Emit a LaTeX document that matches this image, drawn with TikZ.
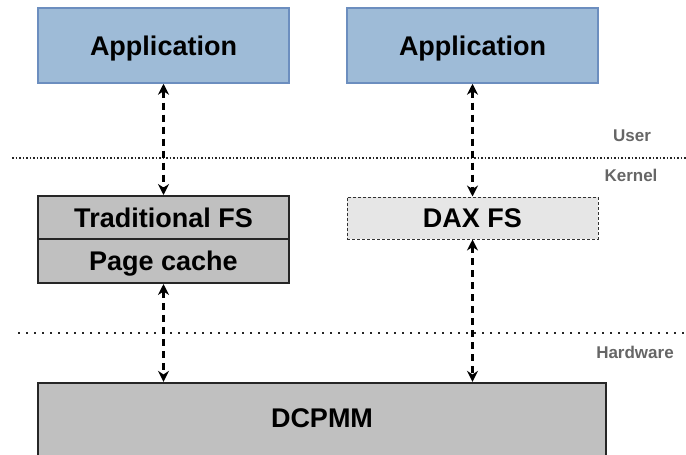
\documentclass[tikz,border=0pt]{standalone}
\usepackage{fontspec}
\setmainfont{Liberation Sans}
\usepackage{tikz}
\usetikzlibrary{arrows.meta}
\definecolor{appblue}{HTML}{9EBBD7}
\definecolor{appline}{HTML}{6C8EBF}
\definecolor{fsgray}{HTML}{C0C0C0}
\definecolor{daxgray}{HTML}{E6E6E6}
\definecolor{layergray}{HTML}{666666}

\begin{document}
\begin{tikzpicture}[x=1pt,y=-1pt,
    box/.style={rectangle,minimum width=251pt,inner sep=0pt,text height=19.3pt,text depth=0pt,
      font=\fontsize{27}{30}\selectfont\bfseries},
    appbox/.style={box,draw=appline,fill=appblue,line width=1.5pt,minimum height=75pt},
    fsbox/.style={box,draw=black!85,fill=fsgray,line width=2pt},
    daxbox/.style={box,draw=black!80,fill=daxgray,line width=1pt,dash pattern=on 3pt off 2pt},
    layer/.style={text=layergray,font=\fontsize{17}{20}\selectfont\bfseries},
    io/.style={{Stealth[length=11pt,width=11pt]}-{Stealth[length=11pt,width=11pt]},
      line width=2.5pt,dash pattern=on 7pt off 5pt}]
  \useasboundingbox (0,0) rectangle (686,455);
  \clip (0,0) rectangle (686,455);

  \node[appbox] (app1) at (163.5,45.5) {Application};
  \node[appbox] (app2) at (472.5,45.5) {Application};
  \node[fsbox,minimum height=43pt] (tfs) at (163.5,217.5) {Traditional FS};
  \node[fsbox,minimum height=44pt] (pc) at (163.5,261) {Page cache};
  \node[daxbox,minimum height=42pt] (dax) at (472.5,218) {DAX FS};
  \node[fsbox,minimum width=568pt,anchor=base,inner ysep=24.85pt,text depth=20pt] (dcpmm) at (322,427) {DCPMM};

  \draw[black!85,line width=1.5pt,dash pattern=on 1.5pt off 2pt] (12,158) -- (686,158);
  \draw[black!85,line width=2pt,dash pattern=on 2pt off 6pt] (18,333) -- (686,333);
  \node[layer] (user) at (632,136) {User};
  \node[layer] (kernel) at (631,175) {Kernel};
  \node[layer] (hw) at (635,352) {Hardware};

  \draw[io] (app1) -- (tfs);
  \draw[io] (app2) -- (dax);
  \draw[io] (pc) -- (pc |- dcpmm.north);
  \draw[io] (dax) -- (dax |- dcpmm.north);
\end{tikzpicture}
\end{document}
